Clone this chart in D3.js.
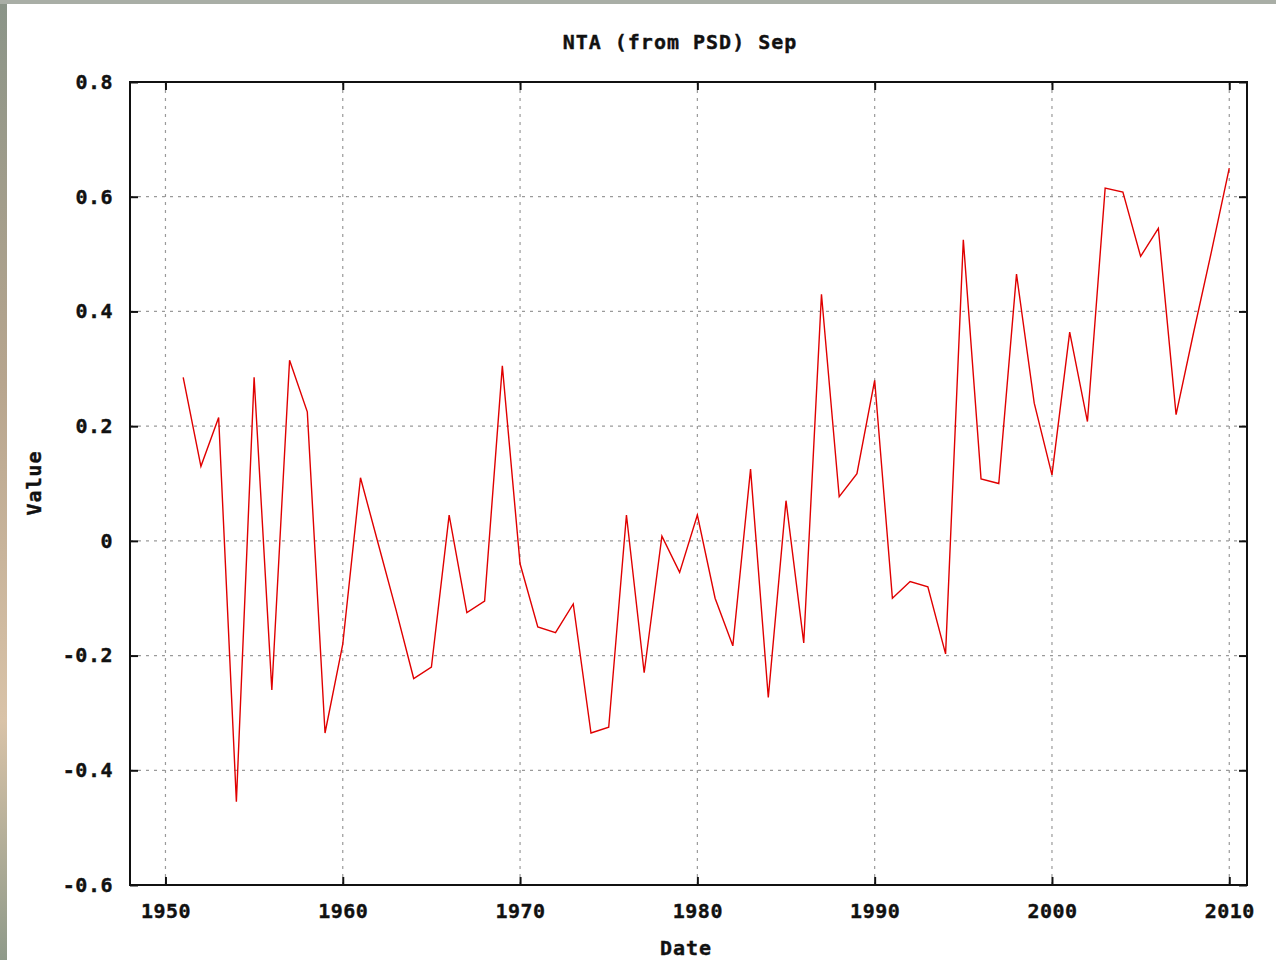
<!DOCTYPE html>
<html>
<head>
<meta charset="utf-8">
<script src="https://cdn.jsdelivr.net/npm/d3@7"></script>
<style>
  html, body { margin: 0; padding: 0; background: #fff; }
  svg text { font-family: "DejaVu Sans Mono", "Liberation Mono", monospace; font-weight: bold; fill: #111; }
</style>
</head>
<body>
<svg id="chart"></svg>
<script>
//------------------------------------------------------------
// Data: NTA (from PSD), September values
const years = d3.range(1951, 2011);
const values = [
  0.285, 0.13, 0.215, -0.455, 0.285, -0.26, 0.315, 0.225, -0.335, -0.18,
  0.11, -0.005, -0.12, -0.24, -0.22, 0.045, -0.125, -0.105, 0.305, -0.04,
  -0.15, -0.16, -0.11, -0.335, -0.325, 0.045, -0.23, 0.008, -0.055, 0.045,
  -0.1, -0.183, 0.125, -0.273, 0.07, -0.178, 0.43, 0.077, 0.117, 0.28,
  -0.1, -0.071, -0.08, -0.197, 0.525, 0.108, 0.1, 0.465, 0.24, 0.115,
  0.364, 0.208, 0.615, 0.608, 0.496, 0.545, 0.22, 0.365, 0.505, 0.65
];
const xTicks = [1950, 1960, 1970, 1980, 1990, 2000, 2010];
const yTicks = [-0.6, -0.4, -0.2, 0, 0.2, 0.4, 0.6, 0.8];

const data = years.map((y, i) => ({ year: y, value: values[i] }));

//------------------------------------------------------------
// Chart setup
const W = 1276, H = 960;
const margin = { top: 82, right: 29, bottom: 75, left: 130 };
const width = W - margin.left - margin.right;
const height = H - margin.top - margin.bottom;

const svg = d3.select("#chart").attr("width", W).attr("height", H);

// photo border round the page
svg.append("rect").attr("width", W).attr("height", H).attr("fill", "#fff");
const grad = svg.append("defs").append("linearGradient")
  .attr("id", "edge").attr("x1", 0).attr("y1", 0).attr("x2", 0).attr("y2", 1);
grad.append("stop").attr("offset", "0").attr("stop-color", "#8a9488");
grad.append("stop").attr("offset", "0.4").attr("stop-color", "#b7a58e");
grad.append("stop").attr("offset", "0.75").attr("stop-color", "#d9c3a8");
grad.append("stop").attr("offset", "1").attr("stop-color", "#8f9a8a");
svg.append("rect").attr("x", 0).attr("y", 0).attr("width", 7).attr("height", H).attr("fill", "url(#edge)");
svg.append("rect").attr("x", 0).attr("y", 0).attr("width", W).attr("height", 4).attr("fill", "#a9aea6");

const g = svg.append("g").attr("transform", `translate(${margin.left},${margin.top})`);

const x = d3.scaleLinear().domain([1948, 2011]).range([0, width]);
const y = d3.scaleLinear().domain([-0.6, 0.8]).range([height, 0]);

// Grid
g.append("g").selectAll("line")
  .data(xTicks).join("line")
  .attr("x1", d => x(d)).attr("x2", d => x(d))
  .attr("y1", 0).attr("y2", height)
  .attr("stroke", "#9a9a9a").attr("stroke-width", 1.2)
  .attr("stroke-dasharray", "3,5");
g.append("g").selectAll("line")
  .data(yTicks.filter(d => d > -0.6 && d < 0.8)).join("line")
  .attr("x1", 0).attr("x2", width)
  .attr("y1", d => y(d)).attr("y2", d => y(d))
  .attr("stroke", "#9a9a9a").attr("stroke-width", 1.2)
  .attr("stroke-dasharray", "3,5");

// Axes (inward ticks on all four sides)
const fmtY = d => d === 0 ? "0" : d3.format(".1f")(d).replace("−", "-");
const axisStyle = sel => {
  sel.select(".domain").remove();
  sel.selectAll(".tick line").attr("stroke", "#111").attr("stroke-width", 2);
  sel.selectAll(".tick text")
    .style("font-size", "20px").style("letter-spacing", "0.5px")
    .attr("fill", "#111").attr("stroke", "#111").attr("stroke-width", 0.4);
};
g.append("g").attr("transform", `translate(0,${height})`)
  .call(d3.axisBottom(x).tickValues(xTicks).tickFormat(d3.format("d")).tickSizeInner(-8).tickPadding(19))
  .call(axisStyle);
g.append("g")
  .call(d3.axisTop(x).tickValues(xTicks).tickSizeInner(-8).tickFormat(""))
  .call(axisStyle);
g.append("g")
  .call(d3.axisLeft(y).tickValues(yTicks).tickFormat(fmtY).tickSizeInner(-8).tickPadding(17))
  .call(axisStyle);
g.append("g").attr("transform", `translate(${width},0)`)
  .call(d3.axisRight(y).tickValues(yTicks).tickSizeInner(-8).tickFormat(""))
  .call(axisStyle);

// Frame
g.append("rect")
  .attr("width", width).attr("height", height)
  .attr("fill", "none").attr("stroke", "#111").attr("stroke-width", 2);

// Line
const line = d3.line().x(d => x(d.year)).y(d => y(d.value));
g.append("path").datum(data)
  .attr("fill", "none").attr("stroke", "#e00000").attr("stroke-width", 1.4)
  .attr("d", line);

// Labels
const label = sel => sel
  .attr("text-anchor", "middle")
  .style("font-size", "20px").style("letter-spacing", "1px")
  .attr("stroke", "#111").attr("stroke-width", 0.4);

svg.append("text")
  .attr("x", 680).attr("y", 49)
  .call(label)
  .text("NTA (from PSD) Sep");

svg.append("text")
  .attr("x", 686).attr("y", 955)
  .call(label)
  .text("Date");

svg.append("text")
  .attr("transform", "translate(41,483) rotate(-90)")
  .call(label)
  .text("Value");
</script>
</body>
</html>
